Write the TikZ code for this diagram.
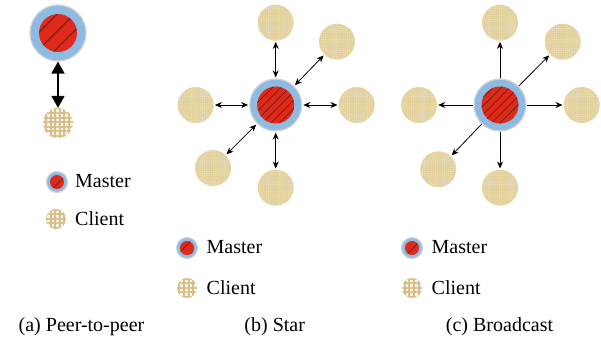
\documentclass[tikz,border=0pt]{standalone}
\usepackage{fontspec}
\setmainfont{Liberation Serif}
\usetikzlibrary{patterns.meta,arrows.meta}

\definecolor{ringblue}{HTML}{8EBBE2}
\definecolor{ringedge}{HTML}{D4D4D4}
\definecolor{masterred}{HTML}{DD2A1B}
\definecolor{stripe}{HTML}{5E1710}
\definecolor{clienttan}{HTML}{E3D19E}
\definecolor{clientgrid}{HTML}{D6BF88}

\tikzset{
  master/.style={circle,draw=ringedge,line width=1.2pt,fill=ringblue,
    minimum size=#1,inner sep=0pt},
  master/.default=52pt,
  core/.style={circle,fill=masterred,minimum size=#1,inner sep=0pt},
  core/.default=37pt,
  striped/.style={postaction={pattern={Lines[angle=45,distance=#1,line width=.5pt]},
      pattern color=stripe}},
  striped/.default=6pt,
  client/.style={circle,fill=clienttan,minimum size=36pt,inner sep=0pt,
    postaction={pattern={Dots[distance=2.2pt,radius=.45pt]},
      pattern color=white!55!clienttan}},
  gridclient/.style={circle,fill=white!80!clientgrid,minimum size=#1,inner sep=0pt,
    postaction={pattern={Hatch[angle=0,distance=4.6pt,line width=1.9pt]},
      pattern color=clientgrid}},
  label/.style={anchor=west,inner sep=2pt,font=\fontsize{20}{24}\selectfont},
  caption/.style={inner sep=0pt,font=\fontsize{20}{24}\selectfont},
  peer/.style={line width=1.6pt,
    {Triangle[width=13pt,length=12pt]}-{Triangle[width=13pt,length=12pt]}},
  twoway/.style={line width=.8pt,
    {Stealth[width=6pt,length=7pt]}-{Stealth[width=6pt,length=7pt]},
    shorten <=1pt,shorten >=1pt},
  oneway/.style={line width=.8pt,-{Stealth[width=6pt,length=7pt]},shorten >=1pt}
}

\begin{document}
\begin{tikzpicture}[x=1pt,y=-1pt]
  \useasboundingbox (0,0) rectangle (601,343);

  % (a) peer-to-peer
  \node[master=56pt] (ma) at (58,33) {};
  \node[core=38pt,postaction={pattern={Lines[angle=45,distance=12pt,line width=1.1pt]},
    pattern color=stripe!75!masterred}] (mac) at (ma) {};
  \node[gridclient=30pt] (ca) at (58,123) {};
  \draw[peer] (ma) -- (ca);

  % (b) star
  \node[master] (mb) at (275.7,105) {};
  \node[core,striped] (mbc) at (mb) {};
  \begin{scope}[every node/.style={client}]
    \node (b1) at (275.7,22.7)  {};
    \node (b2) at (337,41.7)    {};
    \node (b3) at (356.7,105)   {};
    \node (b4) at (275.7,187.7) {};
    \node (b5) at (213,168)     {};
    \node (b6) at (195.7,105)   {};
  \end{scope}
  \foreach \c in {b1,b2,b3,b4,b5,b6}
    \draw[twoway] (mb) -- (\c);

  % (c) broadcast
  \node[master] (mc) at (500,105) {};
  \node[core,striped] (mcc) at (mc) {};
  \begin{scope}[every node/.style={client}]
    \node (c1) at (500,22.7)    {};
    \node (c2) at (562.7,41.7)  {};
    \node (c3) at (581.7,105)   {};
    \node (c4) at (500,187.7)   {};
    \node (c5) at (438.3,169.3) {};
    \node (c6) at (419,105)     {};
  \end{scope}
  \foreach \c in {c1,c2,c3,c4,c5,c6}
    \draw[oneway] (mc) -- (\c);

  % legends
  \node[master=21pt] (lma) at (57,182) {};
  \node[core=14pt,striped=9pt] (lmac) at (lma) {};
  \node[label] (lta) at (73,181.5) {Master};
  \node[gridclient=20pt] (lca) at (56,219) {};
  \node[label] (ltca) at (73,219) {Client};

  \node[master=21pt] (lmb) at (187,248) {};
  \node[core=14pt,striped=9pt] (lmbc) at (lmb) {};
  \node[label] (ltb) at (204.5,247.5) {Master};
  \node[gridclient=20pt] (lcb) at (187,288) {};
  \node[label] (ltcb) at (204.5,288) {Client};

  \node[master=21pt] (lmc) at (412,248) {};
  \node[core=14pt,striped=9pt] (lmcc) at (lmc) {};
  \node[label] (ltc) at (429.5,247.5) {Master};
  \node[gridclient=20pt] (lcc) at (412,288) {};
  \node[label] (ltcc) at (429.5,288) {Client};

  % captions
  \node[caption] (capa) at (81.5,327) {(a) Peer-to-peer};
  \node[caption] (capb) at (274.7,327) {(b) Star};
  \node[caption] (capc) at (499.5,327) {(c) Broadcast};
\end{tikzpicture}
\end{document}
